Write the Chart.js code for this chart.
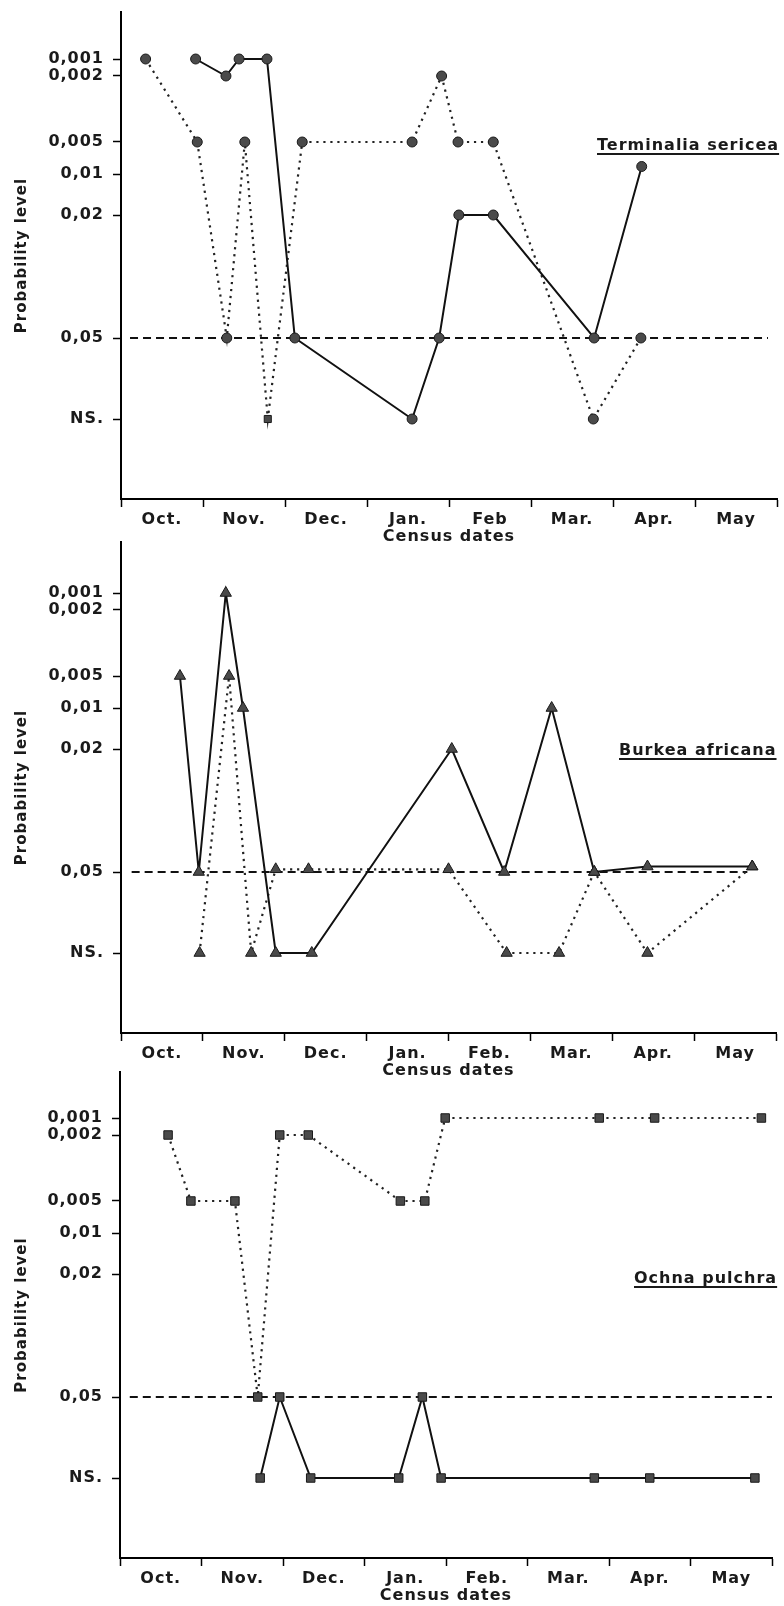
<!DOCTYPE html>
<html>
<head>
<meta charset="utf-8">
<script src="https://cdn.jsdelivr.net/npm/chart.js@4.4.0/dist/chart.umd.min.js"></script>
<style>
  html, body { margin: 0; padding: 0; background: #fff; }
  body { position: relative; width: 784px; height: 1606px; overflow: hidden; }
  canvas { position: absolute; left: 0; }
  .species {
    position: absolute;
    font: bold 16px "DejaVu Sans", sans-serif;
    line-height: 16px;
    letter-spacing: 1px;
    color: #1a1a1a;
    white-space: nowrap;
    text-decoration: underline;
    text-decoration-thickness: 2px;
    text-underline-offset: 3px;
  }
</style>
</head>
<body>
<canvas id="c1" width="784" height="546" style="top:0px"></canvas>
<canvas id="c2" width="784" height="560" style="top:520px"></canvas>
<canvas id="c3" width="784" height="555" style="top:1050px"></canvas>
<div class="species" style="left:597px; top:137px">Terminalia sericea</div>
<div class="species" style="left:619px; top:742px">Burkea africana</div>
<div class="species" style="left:634px; top:1270px">Ochna pulchra</div>

<script>
// x = census date in months after 1 October (Oct. = 0..1, Nov. = 1..2, ...)
const monthsTop = ['Oct.', 'Nov.', 'Dec.', 'Jan.', 'Feb', 'Mar.', 'Apr.', 'May'];
const months = ['Oct.', 'Nov.', 'Dec.', 'Jan.', 'Feb.', 'Mar.', 'Apr.', 'May'];

const yTickLabels = ['0,001', '0,002', '0,005', '0,01', '0,02', '0,05', 'NS.'];
const yTickP = [0.001, 0.002, 0.005, 0.01, 0.02, 0.05, 'NS'];

// Terminalia sericea
const tsSolidX = [0.91, 1.28, 1.44, 1.78, 2.12, 3.55, 3.88, 4.12, 4.54, 5.77, 6.35];
const tsSolidP = [0.001, 0.002, 0.001, 0.001, 0.05, 'NS', 0.05, 0.02, 0.02, 0.05, 0.0085];
const tsDotX = [0.30, 0.93, 1.29, 1.51, 1.79, 2.21, 3.55, 3.91, 4.11, 4.54, 5.76, 6.34];
const tsDotP = [0.001, 0.005, 0.05, 0.005, 'NS', 0.005, 0.005, 0.002, 0.005, 0.005, 'NS', 0.05];

// Burkea africana
const baSolidX = [0.72, 0.95, 1.28, 1.49, 1.89, 2.33, 4.04, 4.68, 5.26, 5.78, 6.43, 7.71];
const baSolidP = [0.005, 0.05, 0.001, 0.01, 'NS', 'NS', 0.02, 0.05, 0.01, 0.05, 0.048, 0.048];
const baDotX = [0.96, 1.32, 1.59, 1.89, 2.29, 4.00, 4.71, 5.35, 5.78, 6.43, 7.71];
const baDotP = ['NS', 0.005, 'NS', 0.049, 0.049, 0.049, 'NS', 'NS', 0.05, 'NS', 0.048];

// Ochna pulchra
const opSolidX = [1.72, 1.96, 2.34, 3.42, 3.71, 3.94, 5.82, 6.50, 7.79];
const opSolidP = ['NS', 0.05, 'NS', 'NS', 0.05, 'NS', 'NS', 'NS', 'NS'];
const opDotX = [0.59, 0.87, 1.41, 1.69, 1.96, 2.31, 3.44, 3.74, 3.99, 5.88, 6.56, 7.87];
const opDotP = [0.002, 0.005, 0.005, 0.05, 0.002, 0.002, 0.005, 0.005, 0.001, 0.001, 0.001, 0.001];

// 0,05 reference line, start and end
const tsRefX = [0.11, 7.89];
const baRefX = [0.13, 7.65];
const opRefX = [0.12, 8.0];

// y axis is not a real scale: height above the x axis of every level (axis units)
const LEVEL = [440, 423, 357, 325, 284, 161, 80];

function level(p) {
    if (p === 'NS') return LEVEL[6];
    for (let i = 0; i < 5; i++) {
        const a = yTickP[i], b = yTickP[i + 1];
        if (p <= b) {
            const t = (Math.log(p) - Math.log(a)) / (Math.log(b) - Math.log(a));
            return LEVEL[i] + t * (LEVEL[i + 1] - LEVEL[i]);
        }
    }
    return LEVEL[5];
}

const pts = (xs, ps) => xs.map((x, i) => ({ x: x, y: level(ps[i]) }));

Chart.defaults.font.family = '"DejaVu Sans", sans-serif';
Chart.defaults.font.size = 16;
Chart.defaults.font.weight = 'bold';
Chart.defaults.color = '#1a1a1a';

function solidSet(xs, ps, style, r) {
    return {
        data: pts(xs, ps),
        borderColor: '#111',
        borderWidth: 2,
        pointStyle: style,
        pointRadius: r,
        pointBackgroundColor: '#4a4a4a',
        pointBorderColor: '#1a1a1a',
        pointBorderWidth: 1,
        order: 1
    };
}

function dotSet(xs, ps, style, r) {
    return {
        data: pts(xs, ps),
        borderColor: '#222',
        borderWidth: 2.2,
        borderDash: [2.2, 4.8],
        pointStyle: style,
        pointRadius: r,
        pointBackgroundColor: '#4a4a4a',
        pointBorderColor: '#1a1a1a',
        pointBorderWidth: 1,
        order: 2
    };
}

function refSet(xs) {
    return {
        data: xs.map(x => ({ x: x, y: LEVEL[5] })),
        borderColor: '#111',
        borderWidth: 2,
        borderDash: [8, 5],
        pointRadius: 0,
        order: 3
    };
}

// canvas letter spacing, the original lettering is wide
const spacing = {
    id: 'spacing',
    beforeUpdate(chart) { chart.ctx.letterSpacing = '1px'; },
    beforeDraw(chart) { chart.ctx.letterSpacing = '1px'; }
};

function makeChart(id, labels, datasets, yMax, padTop, leftW, padRight) {
    return new Chart(document.getElementById(id), {
        type: 'line',
        data: { datasets: datasets },
        plugins: [spacing],
        options: {
            responsive: false,
            animation: false,
            events: [],
            layout: { padding: { top: padTop, right: padRight, left: 0, bottom: 0 } },
            plugins: { legend: { display: false }, tooltip: { enabled: false } },
            scales: {
                x: {
                    type: 'linear',
                    min: 0,
                    max: 8,
                    border: { color: '#000', width: 2 },
                    grid: {
                        drawOnChartArea: false,
                        tickLength: 8,
                        tickWidth: 1.5,
                        tickColor: c => (c.tick && c.tick.value % 1 === 0) ? '#000' : 'rgba(0,0,0,0)'
                    },
                    afterBuildTicks: s => {
                        s.ticks = Array.from({ length: 17 }, (_, i) => ({ value: i / 2 }));
                    },
                    ticks: {
                        autoSkip: false,
                        maxRotation: 0,
                        padding: 3,
                        callback: v => (v % 1) ? labels[Math.floor(v)] : ''
                    },
                    title: { display: true, text: 'Census dates', padding: { top: 0, bottom: 0 } },
                    afterFit: s => { s.height = 47; s.paddingLeft = 0; s.paddingRight = 0; }
                },
                y: {
                    type: 'linear',
                    min: 0,
                    max: yMax,
                    border: { color: '#000', width: 2 },
                    grid: { drawOnChartArea: false, tickLength: 8, tickWidth: 1.5, tickColor: '#000' },
                    afterBuildTicks: s => { s.ticks = LEVEL.map(v => ({ value: v })); },
                    ticks: { autoSkip: false, padding: 9, callback: (v, i) => yTickLabels[i] },
                    title: {
                        display: true,
                        text: 'Probability level',
                        font: { size: 15 },
                        padding: { top: 13, bottom: 0 }
                    },
                    afterFit: s => { s.width = leftW; s.paddingTop = 0; s.paddingBottom = 0; }
                }
            }
        }
    });
}

makeChart('c1', monthsTop, [
    refSet(tsRefX),
    dotSet(tsDotX, tsDotP, tsDotX.map((_, i) => i === 4 ? 'rect' : 'circle'), 5),
    solidSet(tsSolidX, tsSolidP, 'circle', 5)
], 487, 12, 121, 7);

makeChart('c2', months, [
    refSet(baRefX),
    dotSet(baDotX, baDotP, 'triangle', 6.5),
    solidSet(baSolidX, baSolidP, 'triangle', 6.5)
], 491, 22, 121, 8);

makeChart('c3', months, [
    refSet(opRefX),
    dotSet(opDotX, opDotP, 'rect', 6),
    solidSet(opSolidX, opSolidP, 'rect', 6)
], 486, 22, 120, 12);
</script>
</body>
</html>
